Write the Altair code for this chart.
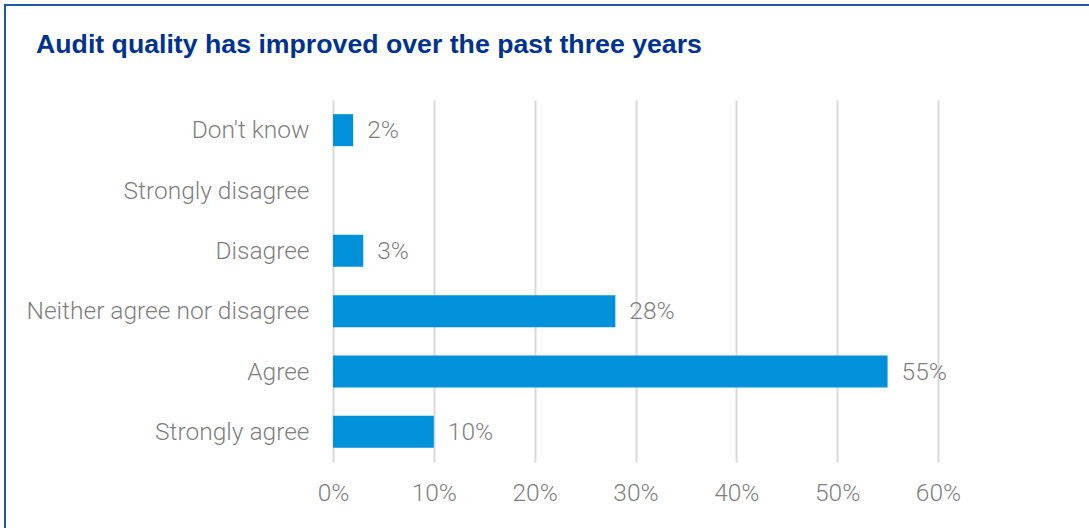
import altair as alt
import pandas as pd

# Survey responses, top to bottom
responses = [
    "Don't know",
    "Strongly disagree",
    "Disagree",
    "Neither agree nor disagree",
    "Agree",
    "Strongly agree",
]
shares = [2, 0, 3, 28, 55, 10]
x_ticks = [0, 10, 20, 30, 40, 50, 60]
title_text = "Audit quality has improved over the past three years"

df = pd.DataFrame({"response": responses, "share": shares})
df["label"] = [f"{v}%" for v in shares]

BAR = "#0091DA"
GREY = "#7F7F7F"
NAVY = "#00338D"
FONT = "Roboto"
FS = 24.5

y_enc = alt.Y(
    "response:N",
    sort=responses,
    title=None,
    scale=alt.Scale(paddingInner=0.47, paddingOuter=0.235),
    axis=alt.Axis(
        domain=False,
        ticks=False,
        grid=False,
        labelFont=FONT,
        labelFontSize=FS,
        labelFontWeight=300,
        labelColor=GREY,
        labelPadding=24,
        labelLimit=400,
        labelOffset=1,
    ),
)
x_enc = alt.X(
    "share:Q",
    title=None,
    scale=alt.Scale(domain=[0, 60], nice=False),
    axis=alt.Axis(
        values=x_ticks,
        labelExpr="datum.value + '%'",
        labelFlush=False,
        domain=False,
        ticks=False,
        grid=True,
        gridColor="#D9D9D9",
        gridWidth=2,
        labelFont=FONT,
        labelFontSize=FS,
        labelFontWeight=300,
        labelColor=GREY,
        labelPadding=19,
    ),
)

base = alt.Chart(df)

bars = base.mark_bar(color=BAR).encode(x=x_enc, y=y_enc)

values = (
    base.transform_filter("datum.share > 0")
    .mark_text(
        align="left",
        baseline="middle",
        dx=14,
        dy=1,
        font=FONT,
        fontSize=FS,
        fontWeight=300,
        color=GREY,
    )
    .encode(x="share:Q", y=alt.Y("response:N", sort=responses), text="label:N")
)

# Heading drawn as text above the plot
heading = (
    alt.Chart(alt.Data(values=[{"t": title_text}]))
    .mark_text(
        align="left",
        baseline="alphabetic",
        font="Liberation Sans",
        fontSize=26.7,
        fontWeight="bold",
        color=NAVY,
    )
    .encode(x=alt.value(-297), y=alt.value(-47), text="t:N")
)

# Outer frame around the panel
frame = (
    alt.Chart(alt.Data(values=[{"f": 1}]))
    .mark_rect(fill=None, stroke="#1F5AA2", strokeWidth=2)
    .encode(
        x=alt.value(-328),
        y=alt.value(-95),
        x2=alt.value(800),
        y2=alt.value(500),
    )
)

chart = (
    alt.layer(frame, bars, values, heading)
    .properties(
        width=605,
        height=362,
        autosize=alt.AutoSizeParams(type="none"),
        padding={"left": 333, "top": 100, "right": 151, "bottom": 66},
        background="white",
    )
    .configure_view(stroke=None)
)

chart.save("out.html", embed_options={"renderer": "svg", "actions": False})
